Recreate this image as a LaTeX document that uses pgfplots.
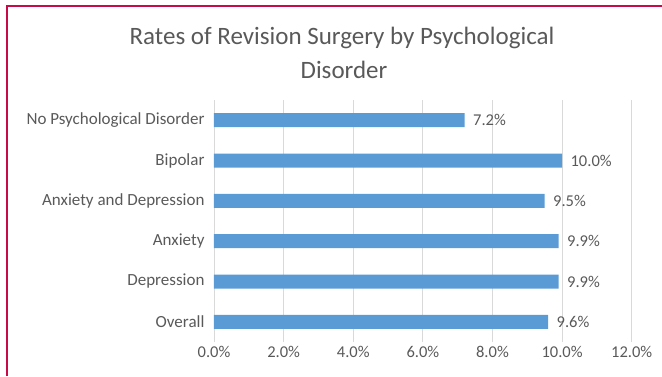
\documentclass[border=0pt]{standalone}
\usepackage{fontspec}
\setmainfont{Carlito}
\usepackage{pgfplots}
\pgfplotsset{compat=1.18}
\definecolor{barblue}{RGB}{91,155,213}
\definecolor{txtgray}{RGB}{89,89,89}
\definecolor{gridgray}{RGB}{217,217,217}
\definecolor{frame}{RGB}{200,10,70}
\begin{document}
\begin{tikzpicture}[x=1pt,y=1pt]
\path[use as bounding box] (0,0) rectangle (662,376);
\draw[frame,line width=1.5pt] (7,0) -- (7,370) -- (662,370);
\node[txtgray,anchor=base,font=\fontsize{25}{30}\selectfont,inner sep=0pt] at (342,331) {Rates of Revision Surgery by Psychological};
\node[txtgray,anchor=base,font=\fontsize{25}{30}\selectfont,inner sep=0pt] at (344,298) {Disorder};
\begin{axis}[
  at={(214pt,34pt)}, anchor=south west,
  scale only axis, width=417.7pt, height=242pt,
  xmin=0, xmax=12, ymin=-0.5, ymax=5.5,
  xtick={0,2,4,6,8,10,12},
  xticklabels={0.0\%,2.0\%,4.0\%,6.0\%,8.0\%,10.0\%,12.0\%},
  ytick={0,1,2,3,4,5},
  yticklabels={Overall,Depression,Anxiety,Anxiety and Depression,Bipolar,No Psychological Disorder},
  xmajorgrids, major grid style={gridgray,line width=0.8pt},
  axis line style={draw=none},
  major tick length=0pt,
  tick label style={txtgray,font=\fontsize{16.5}{18}\selectfont},
  yticklabel style={xshift=-6pt,font=\fontsize{17}{18}\selectfont},
  xticklabel style={yshift=-1pt},
  xbar, bar width=14pt,
  nodes near coords={\pgfmathprintnumber[fixed,fixed zerofill,precision=1]{\pgfplotspointmeta}\%},
  nodes near coords style={txtgray,font=\fontsize{16.5}{18}\selectfont,anchor=west,xshift=5pt},
  point meta=x,
  /pgf/number format/assume math mode=true,
]
\addplot[fill=barblue,draw=none] coordinates {(9.6,0) (9.9,1) (9.9,2) (9.5,3) (10.0,4) (7.2,5)};
\end{axis}
\end{tikzpicture}
\end{document}
